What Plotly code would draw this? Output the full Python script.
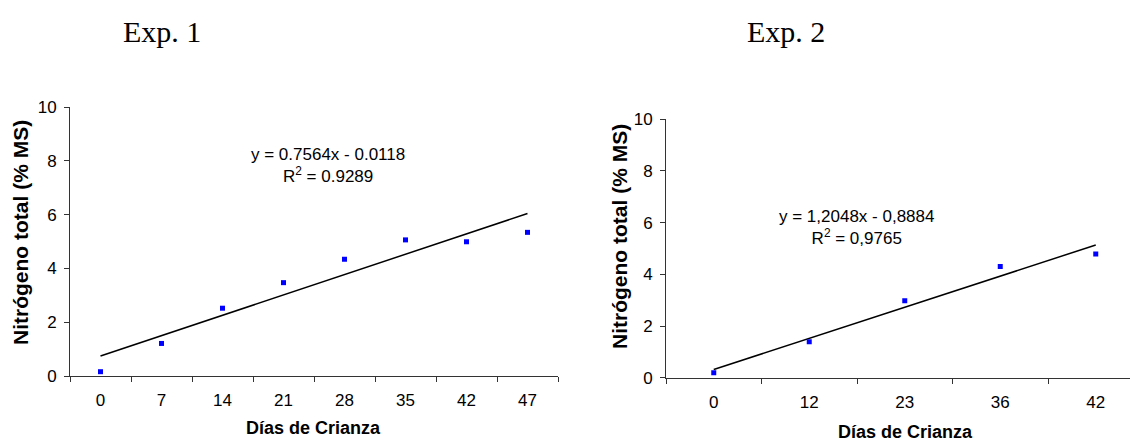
import plotly.graph_objects as go

# ---- data ----
exp1_days = ["0", "7", "14", "21", "28", "35", "42", "47"]
exp1_n = [0.16, 1.21, 2.52, 3.47, 4.34, 5.06, 4.99, 5.34]
exp1_fit = [0.7564, -0.0118]   # slope, intercept (x = 1..n)
exp1_eq = "y = 0.7564x - 0.0118<br>R<sup>2</sup> = 0.9289"

exp2_days = ["0", "12", "23", "36", "42"]
exp2_n = [0.19, 1.39, 2.98, 4.30, 4.79]
exp2_fit = [1.2048, -0.8884]
exp2_eq = "y = 1,2048x - 0,8884<br>R<sup>2</sup> = 0,9765"

titles = ["Exp. 1", "Exp. 2"]
xtitle = "Días de Crianza"
ytitle = "Nitrógeno total (% MS)"

W, H = 1130, 441
SANS = "Arial, Liberation Sans, sans-serif"
SERIF = "Times New Roman, Liberation Serif, serif"

def px(x):
    return x / W

def py(y):
    return (H - y) / H

fig = go.Figure()

def add_panel(days, vals, fit, xa, ya):
    n = len(days)
    fig.add_trace(go.Scatter(
        x=[days[0], days[-1]],
        y=[fit[0] * 1 + fit[1], fit[0] * n + fit[1]],
        mode="lines", line=dict(color="black", width=1.5),
        xaxis=xa, yaxis=ya, showlegend=False, hoverinfo="skip"))
    fig.add_trace(go.Scatter(
        x=days, y=vals, mode="markers",
        marker=dict(symbol="square", size=5, color="#0000FF"),
        xaxis=xa, yaxis=ya, showlegend=False))

add_panel(exp1_days, exp1_n, exp1_fit, "x", "y")
add_panel(exp2_days, exp2_n, exp2_fit, "x2", "y2")

axis_common = dict(showgrid=False, zeroline=False, showline=True,
                   linecolor="#333", linewidth=1, ticks="outside",
                   ticklen=5, tickcolor="#333", tickwidth=1, automargin=False,
                   tickfont=dict(family=SANS, size=17, color="black"))

# right panel: full width would end at 1143 px (cut by the page edge)
step2 = (1143.5 - 666) / 5
right_end = 4.5 - (1143.5 - W) / step2

fig.update_layout(
    template="none",
    width=W, height=H, margin=dict(l=0, r=0, t=0, b=0, pad=0),
    paper_bgcolor="white", plot_bgcolor="white",
    xaxis=dict(domain=[px(70), px(558)], type="category",
               categoryorder="array", categoryarray=exp1_days,
               range=[-0.5, len(exp1_days) - 0.5], tickson="boundaries",
               ticklabelstandoff=9, anchor="y", **axis_common),
    yaxis=dict(domain=[py(376), py(107)], range=[0, 10], dtick=2,
               ticklabelstandoff=4, anchor="x", **axis_common),
    xaxis2=dict(domain=[px(666), 1], type="category",
                categoryorder="array", categoryarray=exp2_days,
                range=[-0.5, right_end], tickson="boundaries",
                ticklabelstandoff=9, anchor="y2", **axis_common),
    yaxis2=dict(domain=[py(377.7), py(119.3)], range=[0, 10], dtick=2,
                ticklabelstandoff=4, anchor="x2", **axis_common),
)

def note(text, x, y, size, family=SANS, angle=0):
    return dict(text=text, x=px(x), y=py(y), xref="paper", yref="paper",
                xanchor="center", yanchor="middle", showarrow=False,
                textangle=angle, align="center",
                font=dict(family=family, size=size, color="black"))

ann = [
    note(titles[0], 162, 31, 30, SERIF),
    note(titles[1], 786, 31, 30, SERIF),
    note(f"<b>{xtitle}</b>", 313, 428, 18),
    note(f"<b>{xtitle}</b>", 905, 432, 18),
    note(f"<b>{ytitle}</b>", 20, 233, 21, angle=-90),
    note(f"<b>{ytitle}</b>", 620, 237, 21, angle=-90),
    note(exp1_eq, 328, 165, 17),
    note(exp2_eq, 856, 227, 17),
]

fig.update_layout(annotations=ann)
fig.write_html("out.html")
